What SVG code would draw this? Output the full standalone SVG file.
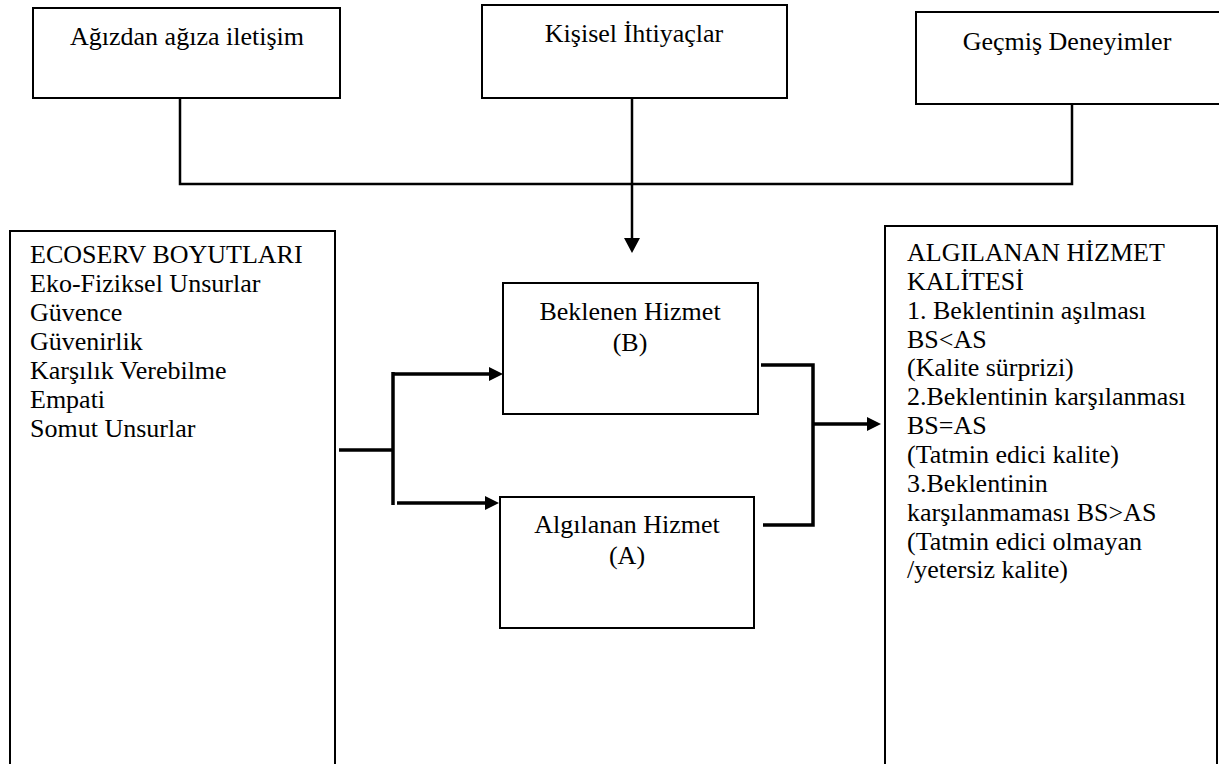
<svg xmlns="http://www.w3.org/2000/svg" width="1219" height="764" viewBox="0 0 1219 764">
<style>
  .box { fill: #fff; stroke: #000; stroke-width: 2; }
  .t { font-family: "Liberation Serif", "Times New Roman", serif; font-size: 26px; fill: #000; }
  .c { text-anchor: middle; }
  .thin { fill: none; stroke: #000; stroke-width: 2.5; }
  .thick { fill: none; stroke: #000; stroke-width: 3.5; }
</style>
<defs>
  <marker id="ah" viewBox="0 0 14 14" refX="10" refY="7" markerWidth="14" markerHeight="14" markerUnits="userSpaceOnUse" orient="auto">
    <path d="M0,0 L14,7 L0,14 z" fill="#000"/>
  </marker>
  <marker id="ahTop" viewBox="0 0 15 16" refX="11" refY="8" markerWidth="15" markerHeight="16" markerUnits="userSpaceOnUse" orient="auto">
    <path d="M0,0 L15,8 L0,16 z" fill="#000"/>
  </marker>
</defs>
<rect width="1219" height="764" fill="#fff"/>

<g id="connectors">
  <path class="thin" d="M180,98 V184 H1072 V98"/>
  <path class="thin" d="M632,98 V249" marker-end="url(#ahTop)"/>
  <path class="thick" d="M339,450 H393"/>
  <path class="thick" d="M393,372 V505"/>
  <path class="thick" d="M393,374 H499" marker-end="url(#ah)"/>
  <path class="thick" d="M397,503 H495" marker-end="url(#ah)"/>
  <path class="thick" d="M761,365 H813 V525 H763"/>
  <path class="thick" d="M813,424 H877" marker-end="url(#ah)"/>
</g>

<g id="node-agizdan">
  <rect class="box" x="33" y="8" width="307" height="90"/>
  <text class="t c" x="187" y="45">Ağızdan ağıza iletişim</text>
</g>
<g id="node-kisisel">
  <rect class="box" x="482" y="5" width="305" height="93"/>
  <text class="t c" x="634" y="42">Kişisel İhtiyaçlar</text>
</g>
<g id="node-gecmis">
  <rect class="box" x="916" y="12" width="310" height="92"/>
  <text class="t c" x="1067" y="50">Geçmiş Deneyimler</text>
</g>

<g id="node-ecoserv">
  <rect class="box" x="10" y="231" width="325" height="545"/>
  <text class="t" x="30" y="263">ECOSERV BOYUTLARI</text>
  <text class="t" x="30" y="292">Eko-Fiziksel Unsurlar</text>
  <text class="t" x="30" y="321">Güvence</text>
  <text class="t" x="30" y="350">Güvenirlik</text>
  <text class="t" x="30" y="379">Karşılık Verebilme</text>
  <text class="t" x="30" y="408">Empati</text>
  <text class="t" x="30" y="437">Somut Unsurlar</text>
</g>

<g id="node-beklenen">
  <rect class="box" x="503" y="283" width="255" height="131"/>
  <text class="t c" x="630" y="320">Beklenen Hizmet</text>
  <text class="t c" x="630" y="351">(B)</text>
</g>
<g id="node-algilanan">
  <rect class="box" x="500" y="497" width="254" height="131"/>
  <text class="t c" x="627" y="533">Algılanan Hizmet</text>
  <text class="t c" x="627" y="564">(A)</text>
</g>

<g id="node-kalite">
  <rect class="box" x="885" y="226" width="332" height="550"/>
  <text class="t" x="907" y="261">ALGILANAN HİZMET</text>
  <text class="t" x="907" y="290">KALİTESİ</text>
  <text class="t" x="907" y="319">1. Beklentinin aşılması</text>
  <text class="t" x="907" y="348">BS&lt;AS</text>
  <text class="t" x="907" y="376">(Kalite sürprizi)</text>
  <text class="t" x="907" y="405">2.Beklentinin karşılanması</text>
  <text class="t" x="907" y="434">BS=AS</text>
  <text class="t" x="907" y="463">(Tatmin edici kalite)</text>
  <text class="t" x="907" y="492">3.Beklentinin</text>
  <text class="t" x="907" y="521">karşılanmaması BS&gt;AS</text>
  <text class="t" x="907" y="550">(Tatmin edici olmayan</text>
  <text class="t" x="907" y="578">/yetersiz kalite)</text>
</g>
</svg>
